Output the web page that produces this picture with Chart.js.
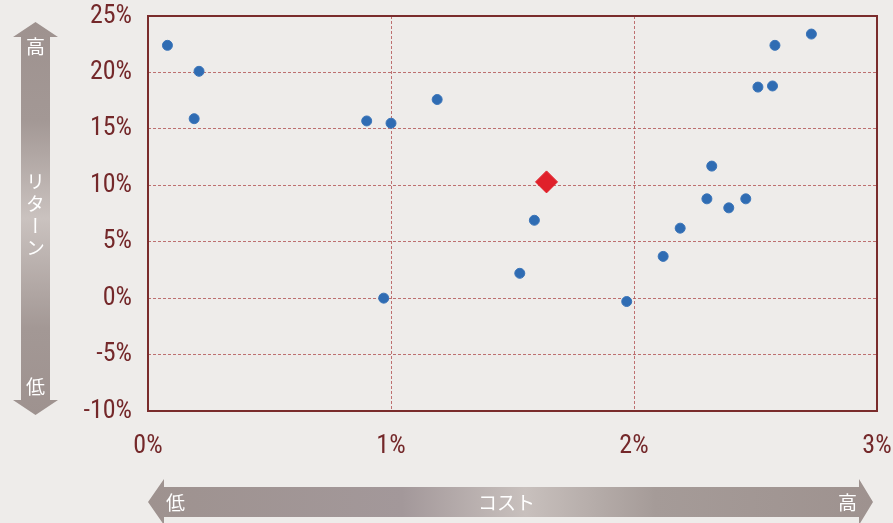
<!DOCTYPE html>
<html>
<head>
<meta charset="utf-8">
<script src="https://cdn.jsdelivr.net/npm/chart.js@4"></script>
<style>
  html, body { margin:0; padding:0; background:#eeecea; }
  #wrap { position:relative; width:893px; height:523px; overflow:hidden; background:#eeecea; }
  #c { position:absolute; left:0; top:0; }
  .arrow { position:absolute; }
  #varrow { left:13px; top:22px; width:45px; height:393px;
    clip-path: polygon(22.5px 0, 45px 15px, 37px 15px, 37px 378px, 45px 378px, 22.5px 393px, 0 378px, 8px 378px, 8px 15px, 0 15px);
    background: linear-gradient(to bottom, #9e928f 0%, #a39895 25%, #cac2bf 50%, #a39895 78%, #9e928f 100%); }
  #harrow { left:148px; top:479px; width:725px; height:46px;
    clip-path: polygon(0 23px, 16px 0, 16px 8px, 711px 8px, 711px 0, 725px 23px, 711px 46px, 711px 38px, 16px 38px, 16px 46px);
    background: linear-gradient(to right, #9e928f 0%, #a3989a 35%, #c8c0bd 52%, #a59b98 70%, #9e928f 100%); }
  .lbl { position:absolute; color:#fff; font-family:"Noto Sans CJK JP", sans-serif; font-size:19px; line-height:1; }
  #vt { left:26px; top:172px; writing-mode:vertical-rl; font-size:19px; letter-spacing:3px; }
</style>
</head>
<body>
<div id="wrap">
  <div id="varrow" class="arrow"></div>
  <div id="harrow" class="arrow"></div>
  <canvas id="c" width="893" height="523"></canvas>
  <div class="lbl" style="left:26px;top:36px;">高</div>
  <div class="lbl" id="vt">リターン</div>
  <div class="lbl" style="left:26px;top:376px;">低</div>
  <div class="lbl" style="left:166px;top:492px;">低</div>
  <div class="lbl" style="left:478px;top:492px;">コスト</div>
  <div class="lbl" style="left:838px;top:492px;">高</div>
</div>
<script>
// Data (x = cost %, y = return %)
const costs   = [0.08, 0.21, 0.19, 0.90, 1.00, 1.19, 0.97, 1.59, 1.53, 1.97, 2.12, 2.19, 2.30, 2.32, 2.39, 2.46, 2.51, 2.57, 2.58, 2.73];
const returns = [22.4, 20.1, 15.9, 15.7, 15.5, 17.6, 0.0, 6.9, 2.2, -0.3, 3.7, 6.2, 8.8, 11.7, 8.0, 8.8, 18.7, 18.8, 22.4, 23.4];
const highlightCost   = [1.64];
const highlightReturn = [10.3];
const xTicks = [0, 1, 2, 3];
const yTicks = [-10, -5, 0, 5, 10, 15, 20, 25];

const tickColor = '#74282a';
const gridColor = 'rgba(180,90,90,0.85)';
const tickFont = { family: "'Liberation Sans Narrow','Roboto Condensed','DejaVu Sans Condensed',Roboto,sans-serif", size: 26 };

const boxPlugin = {
  id: 'box',
  beforeDatasetsDraw(chart) {
    const a = chart.chartArea, ctx = chart.ctx;
    ctx.save();
    ctx.strokeStyle = '#7a2c2c';
    ctx.lineWidth = 2;
    ctx.strokeRect(a.left, a.top, a.right - a.left, a.bottom - a.top);
    ctx.restore();
  }
};

function zeroPad(s) { s.paddingTop = 0; s.paddingBottom = 0; s.paddingLeft = 0; s.paddingRight = 0; }

new Chart(document.getElementById('c'), {
  type: 'scatter',
  data: {
    datasets: [
      {
        data: costs.map((c, i) => ({ x: c, y: returns[i] })),
        backgroundColor: '#2f6cb3',
        borderColor: '#3a74b8',
        borderWidth: 1,
        pointRadius: 5,
        pointStyle: 'circle'
      },
      {
        data: highlightCost.map((c, i) => ({ x: c, y: highlightReturn[i] })),
        backgroundColor: '#e0202a',
        borderColor: '#e0202a',
        borderWidth: 1,
        pointRadius: 11,
        pointStyle: 'rectRot'
      }
    ]
  },
  options: {
    responsive: false,
    animation: false,
    events: [],
    layout: { padding: { top: 16, right: 16, left: 0, bottom: 0 } },
    plugins: { legend: { display: false }, tooltip: { enabled: false } },
    scales: {
      x: {
        type: 'linear', min: 0, max: 3,
        afterBuildTicks: s => { s.ticks = xTicks.map(v => ({ value: v })); },
        afterFit: s => { s.height = 112; zeroPad(s); },
        ticks: { callback: v => v + '%', color: tickColor, font: tickFont, padding: 20, maxRotation: 0 },
        grid: {
          drawTicks: false,
          color: ctx => (ctx.tick && (ctx.tick.value === 0 || ctx.tick.value === 3)) ? 'rgba(0,0,0,0)' : gridColor,
          lineWidth: 1
        },
        border: { display: false, dash: [3, 2] }
      },
      y: {
        type: 'linear', min: -10, max: 25,
        afterBuildTicks: s => { s.ticks = yTicks.map(v => ({ value: v })); },
        afterFit: s => { s.width = 148; zeroPad(s); },
        ticks: { callback: v => v + '%', color: tickColor, font: tickFont, padding: 16 },
        grid: {
          drawTicks: false,
          color: ctx => (ctx.tick && (ctx.tick.value === -10 || ctx.tick.value === 25)) ? 'rgba(0,0,0,0)' : gridColor,
          lineWidth: 1
        },
        border: { display: false, dash: [3, 2] }
      }
    }
  },
  plugins: [boxPlugin]
});
</script>
</body>
</html>
